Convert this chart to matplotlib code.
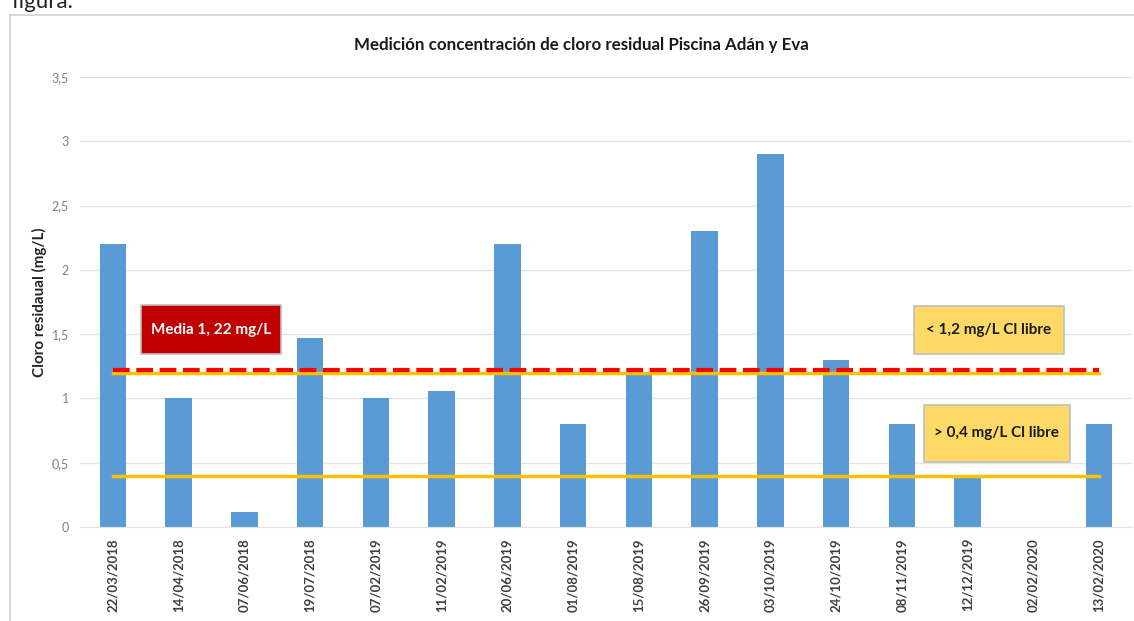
import matplotlib
matplotlib.use("Agg")
import matplotlib.pyplot as plt
from matplotlib.patches import Rectangle

# datos de medición
fechas = ["22/03/2018", "14/04/2018", "07/06/2018", "19/07/2018", "07/02/2019",
          "11/02/2019", "20/06/2019", "01/08/2019", "15/08/2019", "26/09/2019",
          "03/10/2019", "24/10/2019", "08/11/2019", "12/12/2019", "02/02/2020",
          "13/02/2020"]
cloro = [2.2, 1.0, 0.12, 1.47, 1.0, 1.06, 2.2, 0.8, 1.2, 2.3, 2.9, 1.3, 0.8, 0.4, 0.0, 0.8]
media = 1.22
limite_sup = 1.2
limite_inf = 0.4

plt.rcParams['font.family'] = ['Lato', 'DejaVu Sans']

fig = plt.figure(figsize=(11.34, 6.21), dpi=100)
W, H = 1134, 621

# marco del gráfico
fig.patches.append(Rectangle((10 / W, -0.1), 1.2, 1.1 - 15 / H, transform=fig.transFigure,
                             fill=False, edgecolor='#D0D0D0', linewidth=1.2))
fig.text(12 / W, 1 - 2 / H, "figura.", fontsize=16, color='#222222', va='center', ha='left')

ax = fig.add_axes([80 / W, 1 - 527 / H, 1052 / W, 450 / H])
x = list(range(len(fechas)))
ax.bar(x, cloro, width=0.4, color='#5B9BD5', zorder=2)

ax.plot(x, [limite_sup] * len(x), color='#FFC000', linewidth=2.5, zorder=3)
ax.plot(x, [media] * len(x), color='#FF0000', linewidth=3, linestyle=(0, (4, 1.6)), zorder=4)
ax.plot(x, [limite_inf] * len(x), color='#FFC000', linewidth=2.5, zorder=3)

ax.set_xlim(-0.5, len(fechas) - 0.5)
ax.set_ylim(0, 3.5)
ax.set_yticks([0, 0.5, 1, 1.5, 2, 2.5, 3, 3.5])
ax.set_yticklabels(["0", "0,5", "1", "1,5", "2", "2,5", "3", "3,5"], color='#7F7F7F', fontsize=9)
ax.set_xticks(x)
ax.set_xticklabels(fechas, rotation=90, fontsize=9.5, color='#404040', fontweight='bold')
ax.tick_params(axis='both', length=0, pad=8)
ax.grid(axis='y', color='#E3E3E3', linewidth=1, zorder=0)
for s in ax.spines.values():
    s.set_visible(False)
ax.spines['bottom'].set_visible(True)
ax.spines['bottom'].set_color('#E3E3E3')

ax.set_ylabel("Cloro residaual (mg/L)", fontsize=11, fontweight='bold', color='#262626', labelpad=3)
fig.text(581 / W, 1 - 45 / H, "Medición concentración de cloro residual Piscina Adán y Eva",
         ha='center', va='center', fontsize=12.2, fontweight='bold', color='#1a1a1a')

# cuadros de texto
cuadros = [
    ((0.43, 1.345), 2.13, 0.38, '#C00000', 'white', "Media 1, 22 mg/L"),
    ((12.19, 1.345), 2.27, 0.375, '#FFD966', '#1a1a1a', "< 1,2 mg/L Cl libre"),
    ((12.34, 0.505), 2.21, 0.445, '#FFD966', '#1a1a1a', "> 0,4 mg/L Cl libre"),
]
for (x0, y0), w, h, fc, tc, txt in cuadros:
    ax.add_patch(Rectangle((x0, y0), w, h, facecolor=fc, edgecolor='#BFBFBF',
                           linewidth=1.2, zorder=5))
    ax.text(x0 + w / 2, y0 + h / 2, txt, ha='center', va='center', color=tc,
            fontsize=11, fontweight='bold', zorder=6)

fig.savefig("out.png", dpi=100)
plt.close(fig)
